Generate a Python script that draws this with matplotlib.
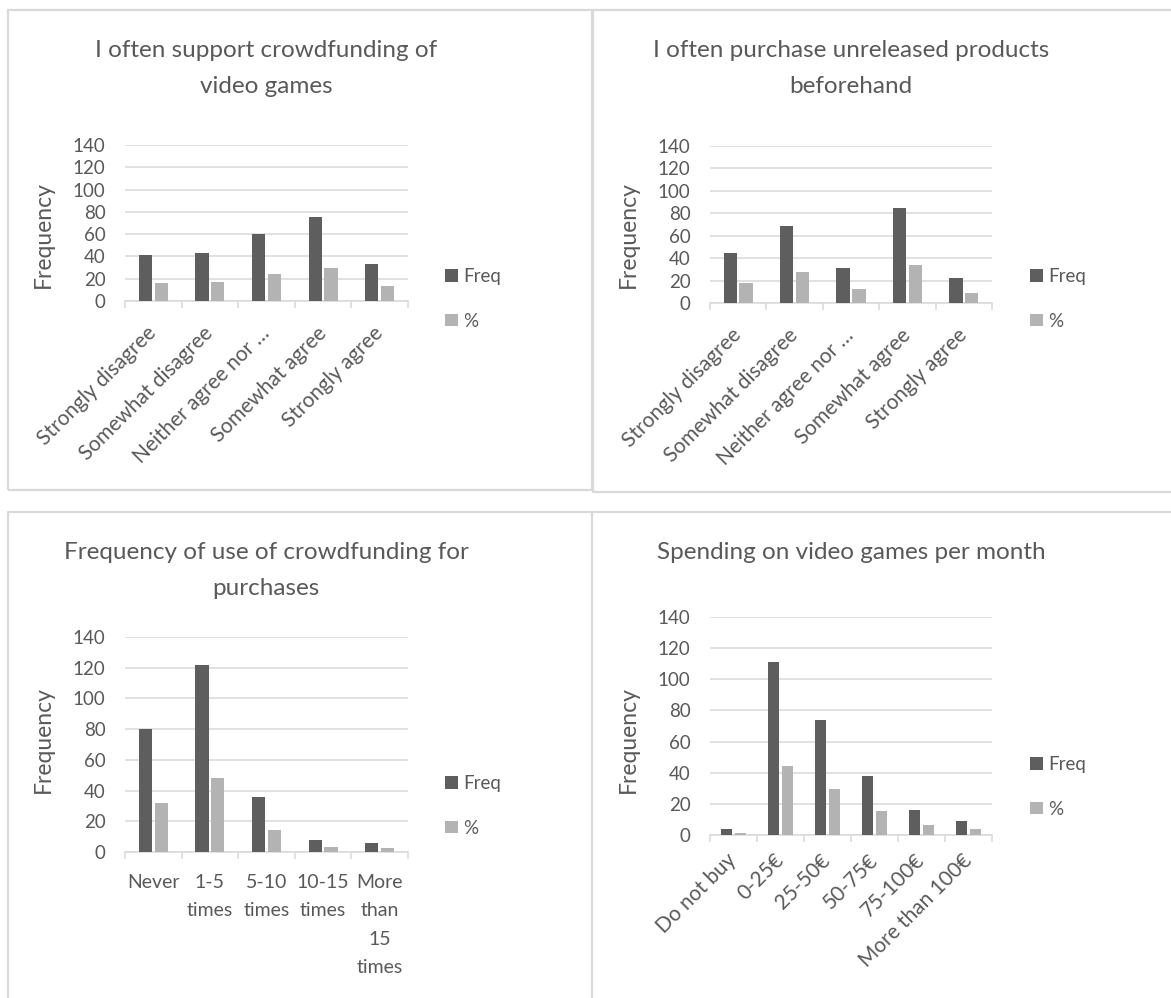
import matplotlib
matplotlib.use("Agg")
import matplotlib.pyplot as plt
from matplotlib.lines import Line2D
import numpy as np

# ---- data -------------------------------------------------------------
agree_labels = ["Strongly disagree", "Somewhat disagree", "Neither agree nor \u2026",
                "Somewhat agree", "Strongly agree"]

crowd_freq = [41, 43, 60, 75, 33]
crowd_pct = [16.3, 17.1, 23.8, 29.8, 13.1]

preorder_freq = [45, 69, 31, 85, 22]
preorder_pct = [17.9, 27.4, 12.3, 33.7, 8.7]

use_labels = ["Never", "1-5\ntimes", "5-10\ntimes", "10-15\ntimes", "More\nthan\n15\ntimes"]
use_freq = [80, 122, 36, 8, 6]
use_pct = [31.7, 48.4, 14.3, 3.2, 2.4]

spend_labels = ["Do not buy", "0-25\u20ac", "25-50\u20ac", "50-75\u20ac", "75-100\u20ac",
                "More than 100\u20ac"]
spend_freq = [4, 111, 74, 38, 16, 9]
spend_pct = [1.6, 44.0, 29.4, 15.1, 6.3, 3.6]

y_ticks = [0, 20, 40, 60, 80, 100, 120, 140]
series_names = ["Freq", "%"]

# ---- style ------------------------------------------------------------
W, H = 1171, 998
DPI = 100
TEXT = "#595959"
GRID = "#d9d9d9"
DARK = "#5e5e5e"
LIGHT = "#b3b3b3"
plt.rcParams["font.family"] = ["Lato", "DejaVu Sans"]
plt.rcParams["text.color"] = TEXT

fig = plt.figure(figsize=(W / DPI, H / DPI), dpi=DPI)


def px_rect(l, t, r, b):
    return [l / W, 1 - b / H, (r - l) / W, (b - t) / H]


def fx(x):
    return x / W


def fy(y):
    return 1 - y / H


# panel frames
def frame_line(xs, ys):
    fig.add_artist(Line2D([fx(x) for x in xs], [fy(y) for y in ys],
                          color=GRID, lw=1.6, solid_capstyle="butt"))


frame_line([8, 8, 592, 592, 8], [490, 10, 10, 490, 490])
frame_line([1175, 593, 593, 1175], [10, 10, 492, 492])
frame_line([8, 8, 592], [1005, 512, 512])
frame_line([592, 592, 1175], [1005, 512, 512])


def bar_chart(rect, labels, freq, pct, title, title_xy, ylabel_xy, legend_xy,
              rotate=True, xpad=12):
    ax = fig.add_axes(px_rect(*rect))
    n = len(labels)
    x = np.arange(n)
    w = 0.235
    off = 0.14
    b1 = ax.bar(x - off, freq, width=w, color=DARK, zorder=3)
    b2 = ax.bar(x + off, pct, width=w, color=LIGHT, zorder=3)
    ax.set_xlim(-0.5, n - 0.5)
    ax.set_ylim(0, 140)
    ax.set_yticks(y_ticks)
    ax.yaxis.grid(True, color=GRID, lw=1.1, zorder=0)
    ax.set_axisbelow(True)
    for s in ["top", "right", "left"]:
        ax.spines[s].set_visible(False)
    ax.spines["bottom"].set_color(GRID)
    ax.spines["bottom"].set_linewidth(1.1)
    ax.tick_params(axis="y", length=0, pad=14, labelsize=13.5, labelcolor=TEXT)
    ax.set_xticks(x)
    ax.set_xticks(np.arange(n + 1) - 0.5, minor=True)
    ax.tick_params(axis="x", which="minor", length=5, color=GRID, width=1.1,
                   direction="out")
    ax.tick_params(axis="x", which="major", length=0, pad=xpad,
                   labelcolor=TEXT)
    if rotate:
        ax.set_xticklabels(labels, rotation=45, ha="right", va="center",
                           rotation_mode="anchor", fontsize=15)
    else:
        ax.set_xticklabels(labels, linespacing=1.8, fontsize=14)
    fig.text(fx(title_xy[0]), fy(title_xy[1]), title, ha="center", va="top",
             fontsize=17.5, color=TEXT, linespacing=1.88)
    fig.text(fx(ylabel_xy[0]), fy(ylabel_xy[1]), "Frequency", rotation=90,
             ha="center", va="center", fontsize=16.5, color=TEXT)
    ax.legend([b1, b2], series_names, loc="center left",
              bbox_to_anchor=(fx(legend_xy[0]), fy(legend_xy[1])),
              bbox_transform=fig.transFigure, frameon=False, fontsize=13.5,
              handlelength=0.67, handleheight=0.67, handletextpad=0.3,
              labelspacing=1.45, borderpad=0, borderaxespad=0,
              labelcolor=TEXT)
    return ax


bar_chart((125, 145, 408, 301), agree_labels, crowd_freq, crowd_pct,
          "I often support crowdfunding of\nvideo games",
          (266, 40), (43, 235), (445, 299), xpad=21)
bar_chart((710, 146, 992, 303), agree_labels, preorder_freq, preorder_pct,
          "I often purchase unreleased products\nbeforehand",
          (851, 40), (628, 235), (1030, 299), xpad=21)
bar_chart((125, 637, 408, 852), use_labels, use_freq, use_pct,
          "Frequency of use of crowdfunding for\npurchases",
          (266, 542), (43, 740), (445, 806), rotate=False, xpad=16)
bar_chart((710, 617, 992, 835), spend_labels, spend_freq, spend_pct,
          "Spending on video games per month",
          (851, 542), (628, 740), (1030, 787), xpad=16)

fig.savefig("out.png", dpi=DPI, facecolor="white")
